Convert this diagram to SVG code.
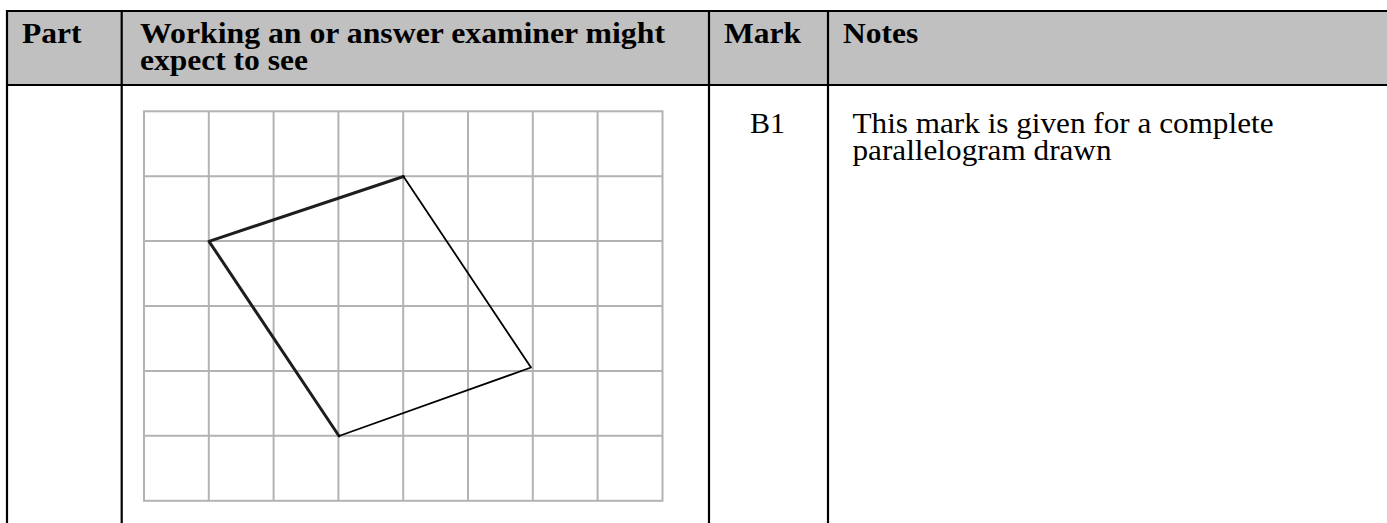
<svg xmlns="http://www.w3.org/2000/svg" width="1387" height="523" viewBox="0 0 1387 523">
<style>
.hd{font-family:"Liberation Serif","Times New Roman",serif;font-weight:bold;font-size:30px;fill:#000}
.bd{font-family:"Liberation Serif","Times New Roman",serif;font-size:29.8px;fill:#000}
.rule{stroke:#000;stroke-width:2.2;fill:none}
.grid{stroke:#b3b3b5;stroke-width:2;fill:none}
.thick{stroke:#1e1e1e;stroke-width:3;fill:none;stroke-linecap:round;stroke-linejoin:round}
.thin{stroke:#000;stroke-width:1.8;fill:none;stroke-linecap:round;stroke-linejoin:round}
</style>
<rect x="0" y="0" width="1387" height="523" fill="#ffffff"/>
<g id="header">
<rect x="7" y="11" width="1380" height="74" fill="#c0c0c0"/>
<text class="hd" x="22" y="42.5" textLength="59.5" lengthAdjust="spacingAndGlyphs">Part</text>
<text class="hd" x="140" y="42.5" textLength="525" lengthAdjust="spacingAndGlyphs">Working an or answer examiner might</text>
<text class="hd" x="140" y="70" textLength="168" lengthAdjust="spacingAndGlyphs">expect to see</text>
<text class="hd" x="724" y="42.5" textLength="77" lengthAdjust="spacingAndGlyphs">Mark</text>
<text class="hd" x="843" y="42.5" textLength="75.2" lengthAdjust="spacingAndGlyphs">Notes</text>
</g>
<g id="table-rules">
<line class="rule" x1="6" y1="11" x2="1387" y2="11"/>
<line class="rule" x1="6" y1="85" x2="1387" y2="85"/>
<line class="rule" x1="7" y1="10" x2="7" y2="523"/>
<line class="rule" x1="121.7" y1="10" x2="121.7" y2="523"/>
<line class="rule" x1="709" y1="10" x2="709" y2="523"/>
<line class="rule" x1="828" y1="10" x2="828" y2="523"/>
</g>
<g id="grid">
<rect class="grid" x="144" y="111.3" width="518.5" height="389.5"/>
<path class="grid" d="M208.8 111.3V500.8M273.6 111.3V500.8M338.4 111.3V500.8M403.2 111.3V500.8M468 111.3V500.8M532.8 111.3V500.8M597.6 111.3V500.8M144 176.2H662.5M144 241.1H662.5M144 306H662.5M144 370.9H662.5M144 435.8H662.5"/>
</g>
<g id="parallelogram">
<polyline class="thick" points="403.5,176.5 209,241.3 339,436"/>
<polyline class="thin" points="403.5,176.5 531,367.5 339,436"/>
</g>
<g id="body-text">
<text class="bd" x="750" y="132.5" textLength="35" lengthAdjust="spacingAndGlyphs">B1</text>
<text class="bd" x="852.5" y="132.5" textLength="421" lengthAdjust="spacingAndGlyphs">This mark is given for a complete</text>
<text class="bd" x="852.5" y="160" textLength="259" lengthAdjust="spacingAndGlyphs">parallelogram drawn</text>
</g>
</svg>
